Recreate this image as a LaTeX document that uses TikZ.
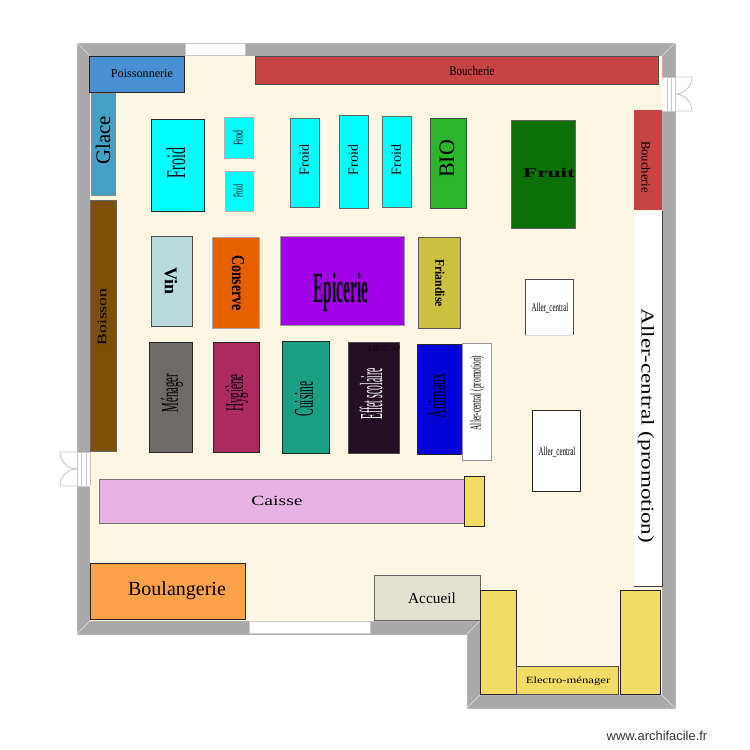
\documentclass[tikz,border=0pt]{standalone}
\usepackage{graphicx}
\usepackage{fontspec}
\setmainfont{Liberation Serif}
\newfontfamily\urlfont{Liberation Sans}
\newcommand{\st}[3]{\scalebox{#1}[#2]{#3}}
\tikzset{
  wall/.style={fill=wallgray,draw=wallgray!85!white,line width=.5pt},
  rayon/.style={draw=black!85,line width=.7pt},
  lbl/.style={inner sep=0pt,text=black,font=\rmfamily},
  doorline/.style={draw=doorgray,line width=.7pt,fill=none},
}
\definecolor{wallgray}{HTML}{A9A9A9}
\definecolor{floorc}{HTML}{FDF6E3}
\definecolor{doorgray}{HTML}{C8C8C8}
\definecolor{cposs}{HTML}{4890D2}
\definecolor{cglace}{HTML}{44A0C4}
\definecolor{cbouch}{HTML}{C64444}
\definecolor{cbois}{HTML}{7C5008}
\definecolor{ccyan}{HTML}{00FFFF}
\definecolor{cbio}{HTML}{2AB52A}
\definecolor{cfruit}{HTML}{0B7007}
\definecolor{cvin}{HTML}{B9DADC}
\definecolor{ccons}{HTML}{E66000}
\definecolor{cepic}{HTML}{A000E8}
\definecolor{cfria}{HTML}{CBC040}
\definecolor{cmen}{HTML}{6E6B69}
\definecolor{chyg}{HTML}{AC2A62}
\definecolor{ccuis}{HTML}{1AA083}
\definecolor{ceff}{HTML}{240F24}
\definecolor{canim}{HTML}{0404D8}
\definecolor{ccaisse}{HTML}{E8B2E4}
\definecolor{cjaune}{HTML}{F2DC66}
\definecolor{cboul}{HTML}{FFA24A}
\definecolor{caccu}{HTML}{E3E1D2}
\begin{document}
\begin{tikzpicture}[x=0.75pt,y=-0.75pt]
\useasboundingbox (0,0) rectangle (750,750);
% walls and floor
\fill[white] (0,0) rectangle (750,750);
\draw[wall] (77,43) -- (675,43) -- (675,708) -- (467,708) -- (467,634) -- (77,634) -- cycle;
\fill[floorc] (90,56) -- (662,56) -- (662,695) -- (480,695) -- (480,621) -- (90,621) -- cycle;
\draw[white!70!wallgray,line width=.4pt] (77,43)--(90,56) (675,43)--(662,56) (77,634)--(90,621) (675,708)--(662,695) (467,708)--(480,695) (467,634)--(480,621);
% windows
\fill[white,draw=doorgray,line width=.4pt] (185,43) rectangle (245,55);
\fill[white,draw=doorgray,line width=.4pt] (249,621) rectangle (370,633);
% right door
\fill[white] (662,77) rectangle (675,111);
\draw[doorline] (662,77)--(675,77)--(675,111)--(662,111) (667,77)--(667,111) (671,77)--(671,111);
\draw[doorline] (675,77)--(692,77) arc[start angle=0,end angle=90,radius=17];
\draw[doorline] (675,111)--(692,111) arc[start angle=0,end angle=-90,radius=17];
% left door
\fill[white] (77,452) rectangle (90,486);
\draw[doorline] (90,452)--(77,452) (90,486)--(77,486) (81,452)--(81,486) (86,452)--(86,486) (90,452)--(90,486) (77,452)--(77,486);
\draw[doorline] (77,452)--(60,452) arc[start angle=180,end angle=90,radius=17];
\draw[doorline] (77,486)--(60,486) arc[start angle=180,end angle=270,radius=17];
% rayons
\draw[rayon,fill=cposs] (89,56) rectangle (184,92);
\node[lbl] (poiss) at (142,74) {\st{.7}{.7}{\fontsize{13}{13}\selectfont Poissonnerie}};
\draw[rayon,fill=cglace,draw=black!45] (91,93) rectangle (115,195);
\node[lbl,rotate=90] (glace) at (103,140) {\fontsize{15.5}{16}\selectfont Glace};
\draw[rayon,fill=cbouch,draw=black!70] (255,56) rectangle (658,84);
\node[lbl] (bou1) at (472,71) {\st{.75}{.9}{\fontsize{11}{11}\selectfont Boucherie}};
\draw[rayon,fill=cbois,draw=black!60] (90,200) rectangle (116,451);
\node[lbl,rotate=90] (bois) at (102,317) {\st{1.15}{.85}{\fontsize{11.5}{12}\selectfont Boisson}};
\draw[rayon,fill=ccyan] (151,119) rectangle (204,211);
\node[lbl,rotate=90] (f1) at (176,163) {\st{.7}{1.35}{\fontsize{15}{15}\selectfont Froid}};
\draw[rayon,draw=black!30,fill=ccyan] (224,117) rectangle (253,158);
\node[lbl,rotate=90] (f2) at (238,138) {\st{.75}{1.25}{\fontsize{8}{8}\selectfont Frod}};
\draw[rayon,draw=black!30,fill=ccyan] (225,171) rectangle (253,211);
\node[lbl,rotate=90] (f3) at (238,191) {\st{.55}{1.25}{\fontsize{8}{8}\selectfont Froid}};
\draw[rayon,draw=black!60,fill=ccyan] (290,118) rectangle (319,207);
\node[lbl,rotate=90] (f4) at (304,160) {\fontsize{10.5}{11}\selectfont Froid};
\draw[rayon,draw=black!60,fill=ccyan] (339,115) rectangle (368,208);
\node[lbl,rotate=90] (f5) at (353,160) {\fontsize{10.5}{11}\selectfont Froid};
\draw[rayon,draw=black!60,fill=ccyan] (382,116) rectangle (411,207);
\node[lbl,rotate=90] (f6) at (396,160) {\fontsize{10.5}{11}\selectfont Froid};
\draw[rayon,draw=black!70,fill=cbio] (430,118) rectangle (466,208);
\node[lbl,rotate=90] (bio) at (447,159) {\fontsize{16.5}{17}\selectfont BIO};
\draw[rayon,draw=black!60,fill=cfruit] (511,120) rectangle (575,228);
\node[lbl] (fruit) at (549,173) {\st{1.4}{.8}{\bfseries\fontsize{12.5}{13}\selectfont Fruit}};
\fill[cbouch] (634,110) rectangle (662,210);
\node[lbl,rotate=-90] (bou2) at (646,167) {\st{.9}{.9}{\fontsize{10.5}{11}\selectfont Boucherie}};
\fill[white] (634,211) rectangle (662,586);
\draw[rayon,draw=black!75] (662,211) -- (662,586) -- (634,586);
\node[lbl,rotate=-90] (all1) at (646,426) {\st{1.28}{1}{\fontsize{13.5}{14}\selectfont Aller-central (promotion)}};
\draw[rayon,draw=black!70,fill=cvin] (151,236) rectangle (192,326);
\node[lbl,rotate=-90] (vin) at (171,281) {\bfseries\fontsize{13.5}{14}\selectfont Vin};
\draw[rayon,draw=black!35,fill=ccons] (212,237) rectangle (259,328);
\node[lbl,rotate=-90] (cons) at (238,283) {\st{.8}{1.05}{\bfseries\fontsize{13}{13}\selectfont Conserve}};
\draw[rayon,draw=black!40,fill=cepic] (280,236) rectangle (404,325);
\node[lbl] (epic) at (341,292) {\st{.68}{1.9}{\bfseries\fontsize{17}{17}\selectfont Epicerie}};
\draw[rayon,draw=black!65,fill=cfria] (418,237) rectangle (460,328);
\node[lbl,rotate=-90] (fria) at (440,283) {\st{.8}{.9}{\bfseries\fontsize{11}{11}\selectfont Friandise}};
\fill[white] (525,279) rectangle (573,335);
\draw[rayon,draw=black!70] (525,335) -- (525,279) -- (573,279) -- (573,335);
\draw[rayon,draw=black!15] (525,335) -- (573,335);
\node[lbl] (all2) at (550,308) {\st{.58}{1}{\fontsize{9}{9}\selectfont Aller\_central}};
\draw[rayon,fill=cmen] (149,342) rectangle (192,452);
\node[lbl,rotate=90] (men) at (172,393) {\st{.68}{1.5}{\fontsize{12}{12}\selectfont Ménager}};
\draw[rayon,fill=chyg] (213,342) rectangle (259,452);
\node[lbl,rotate=90] (hyg) at (237,393) {\st{.7}{1.55}{\fontsize{12}{12}\selectfont Hygiène}};
\draw[rayon,fill=ccuis] (282,341) rectangle (329,453);
\node[lbl,rotate=90] (cuis) at (304,399) {\st{.72}{1.7}{\fontsize{12}{12}\selectfont Cuisine}};
\draw[rayon,draw=black!70,fill=ceff] (348,342) rectangle (399,453);
\node[lbl,rotate=90,text=white] (eff) at (371,394) {\st{.6}{2}{\fontsize{12}{12}\selectfont Effet scolaire}};
\node[lbl,text=black!60!ceff] (surf) at (384,349) {\fontsize{6}{6}\selectfont 140.72 m²};
\draw[rayon,fill=canim] (417,344) rectangle (461,454);
\node[lbl,rotate=90] (anim) at (437,396) {\st{.75}{1.6}{\fontsize{12}{12}\selectfont Animaux}};
\draw[rayon,draw=black!40,fill=white] (462,343) rectangle (491,460);
\node[lbl,rotate=90] (all3) at (477,393) {\st{.55}{1.1}{\fontsize{10}{10}\selectfont Aller-central (promotion)}};
\draw[rayon,fill=white] (532,410) rectangle (580,491);
\node[lbl] (all4) at (557,452) {\st{.58}{1}{\fontsize{9}{9}\selectfont Aller\_central}};
\draw[rayon,draw=black!55,fill=ccaisse] (99,479) rectangle (464,523);
\node[lbl] (cais) at (277,501) {\st{1.4}{1}{\fontsize{10.5}{11}\selectfont Caisse}};
\draw[rayon,fill=cjaune] (464,476) rectangle (484,526);
\draw[rayon,fill=cboul] (90,563) rectangle (245,619);
\node[lbl] (boul) at (177,591) {\fontsize{15}{15}\selectfont Boulangerie};
\draw[rayon,draw=black!60,fill=caccu] (374,575) rectangle (480,620);
\node[lbl] (acc) at (432,598) {\fontsize{11.5}{12}\selectfont Accueil};
\draw[rayon,fill=cjaune] (480,590) rectangle (516,694);
\draw[rayon,fill=cjaune] (620,590) rectangle (660,694);
\draw[rayon,draw=black!70,fill=cjaune] (516,666) rectangle (618,694);
\node[lbl] (elec) at (568,681) {\st{1}{.75}{\fontsize{9.5}{10}\selectfont Electro-ménager}};
\node[lbl,text=black!80] (url) at (657,736) {\urlfont\fontsize{9.7}{10}\selectfont www.archifacile.fr};
\end{tikzpicture}
\end{document}
